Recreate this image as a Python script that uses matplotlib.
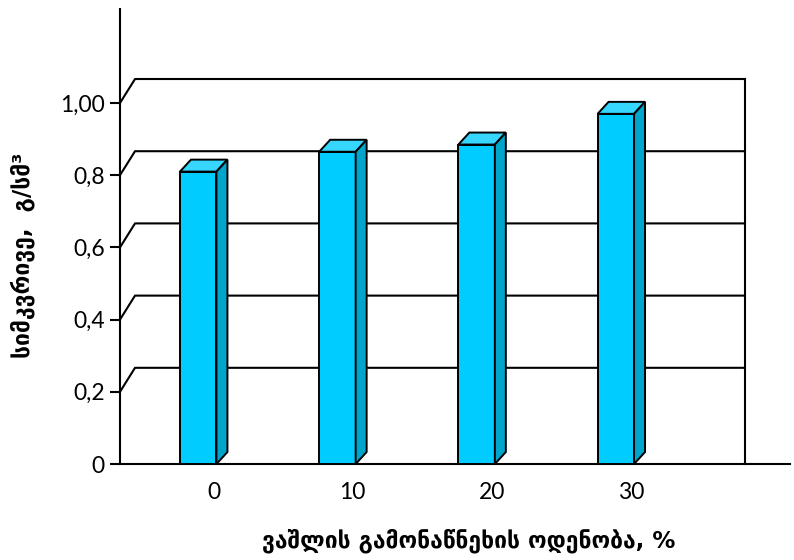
import numpy as np
import matplotlib.pyplot as plt
from matplotlib.patches import Polygon

# data
categories = ['0', '10', '20', '30']
density = [0.81, 0.865, 0.885, 0.97]
y_ticks = [0, 0.2, 0.4, 0.6, 0.8, 1.0]
y_tick_labels = ['0', '0,2', '0,4', '0,6', '0,8', '1,00']
x_title = 'ვაშლის გამონაწნეხის ოდენობა, %'
y_title = 'სიმკვრივე,  გ/სმ³'

front_col = '#00CCFF'
top_col = '#36D6FF'
side_col = '#00A5CC'

fig = plt.figure(figsize=(7.94, 5.60), dpi=100)
ax = fig.add_axes([0.1511, 0.1714, 0.8438, 0.8125])
ax.set_xlim(-0.562, 4.251)
ax.set_ylim(0, 1.2604)

# 3d look: depth of the back wall and of the bars (data units)
wall_dx, wall_dy = 0.108, 0.0665
bar_w = 0.262
bar_dx, bar_dy = 0.079, 0.0332
x0 = ax.get_xlim()[0]
wall_right = 3.928

for v in y_ticks[1:]:
    ax.plot([x0, x0 + wall_dx, wall_right], [v, v + wall_dy, v + wall_dy],
            color='k', lw=1.5, clip_on=False, zorder=1)
ax.plot([wall_right, wall_right], [y_ticks[-1] + wall_dy, 0], color='k', lw=1.5,
        clip_on=False, zorder=1)

xs = np.arange(len(categories))
ax.bar(xs, density, width=bar_w, color=front_col, edgecolor='k', lw=1.4, zorder=3)
for x, h in zip(xs, density):
    l, r = x - bar_w / 2, x + bar_w / 2
    top = [(l, h), (r, h), (r + bar_dx, h + bar_dy), (l + bar_dx, h + bar_dy)]
    side = [(r, 0), (r + bar_dx, bar_dy), (r + bar_dx, h + bar_dy), (r, h)]
    ax.add_patch(Polygon(top, closed=True, fc=top_col, ec='k', lw=1.4, zorder=4))
    ax.add_patch(Polygon(side, closed=True, fc=side_col, ec='k', lw=1.4, zorder=4))

for s in ['top', 'right']:
    ax.spines[s].set_visible(False)
ax.spines['left'].set_linewidth(1.5)
ax.spines['bottom'].set_linewidth(1.5)

ax.set_yticks(y_ticks)
ax.set_yticklabels(y_tick_labels)
ax.tick_params(axis='y', length=7, width=1.5, direction='out', pad=4, labelsize=16.5)
ax.set_xticks(xs + 0.11)
ax.set_xticklabels(categories)
ax.tick_params(axis='x', length=0, pad=13, labelsize=16.5)
for t in ax.get_xticklabels() + ax.get_yticklabels():
    t.set_fontfamily(['Lato', 'DejaVu Sans'])

fig.text(469 / 794, 1 - 541 / 560, x_title, ha='center', va='center', fontsize=16.5,
         fontweight='bold', family=['DejaVu Sans'])
fig.text(23 / 794, 1 - 255 / 560, y_title, ha='center', va='center', fontsize=16.5,
         fontweight='bold', rotation=90, family=['DejaVu Sans'])

fig.savefig('out.png', dpi=100)
